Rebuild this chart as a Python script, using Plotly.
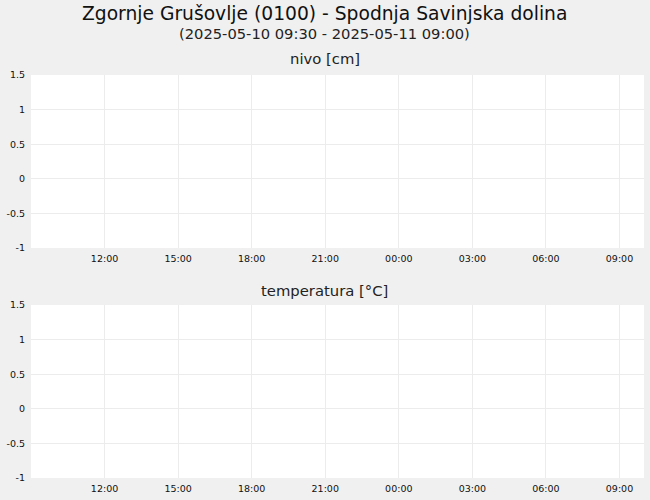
import plotly.graph_objects as go
from plotly.subplots import make_subplots

# podatki (postaja nima meritev v tem obdobju)
cas = []
nivo = []
temperatura = []

x_start = "2025-05-10 09:00"
x_end = "2025-05-11 10:00"
x_ticks = ["2025-05-10 12:00", "2025-05-10 15:00", "2025-05-10 18:00", "2025-05-10 21:00",
           "2025-05-11 00:00", "2025-05-11 03:00", "2025-05-11 06:00", "2025-05-11 09:00"]
x_labels = ["12:00", "15:00", "18:00", "21:00", "00:00", "03:00", "06:00", "09:00"]
y_ticks = [-1, -0.5, 0, 0.5, 1, 1.5]
y_labels = ["-1", "-0.5", "0", "0.5", "1", "1.5"]

FONT = "DejaVu Sans"
XC = 0.4796  # sredina celotne slike (ne samo risalne povrsine)

fig = make_subplots(rows=2, cols=1, vertical_spacing=0.1414)
fig.add_trace(go.Scatter(x=cas, y=nivo, mode="lines", name="nivo"), row=1, col=1)
fig.add_trace(go.Scatter(x=cas, y=temperatura, mode="lines", name="temperatura"), row=2, col=1)

for r in (1, 2):
    fig.update_xaxes(type="date", range=[x_start, x_end], tickvals=x_ticks, ticktext=x_labels,
                     showgrid=True, gridcolor="#ececec", gridwidth=1, zeroline=False,
                     showline=False, ticks="", ticklabelstandoff=3,
                     tickfont=dict(size=9.5, color="#111"), row=r, col=1)
    fig.update_yaxes(range=[-1, 1.5], tickvals=y_ticks, ticktext=y_labels,
                     showgrid=True, gridcolor="#ececec", gridwidth=1, zeroline=False,
                     showline=False, ticks="", ticklabelstandoff=5,
                     tickfont=dict(size=9.5, color="#111"), row=r, col=1)

fig.update_layout(
    width=650, height=500,
    margin=dict(l=31, r=6, t=75, b=22),
    paper_bgcolor="#f0f0f0", plot_bgcolor="white",
    font=dict(family=FONT, color="#222"),
    showlegend=False,
    annotations=[
        dict(text="Zgornje Grušovlje (0100) - Spodnja Savinjska dolina", x=XC, y=1.153,
             xref="paper", yref="paper", xanchor="center", yanchor="middle",
             showarrow=False, font=dict(size=18.7, color="#111")),
        dict(text="(2025-05-10 09:30 - 2025-05-11 09:00)", x=XC, y=1.102,
             xref="paper", yref="paper", xanchor="center", yanchor="middle",
             showarrow=False, font=dict(size=14.7, color="#222")),
        dict(text="nivo [cm]", x=XC, y=1.04,
             xref="paper", yref="paper", xanchor="center", yanchor="middle",
             showarrow=False, font=dict(size=14.8, color="#222")),
        dict(text="temperatura [°C]", x=XC, y=0.4665,
             xref="paper", yref="paper", xanchor="center", yanchor="middle",
             showarrow=False, font=dict(size=14.8, color="#222")),
    ],
)

fig.write_html("out.html", config={"displayModeBar": False},
               post_script="document.body.style.margin='0';")
